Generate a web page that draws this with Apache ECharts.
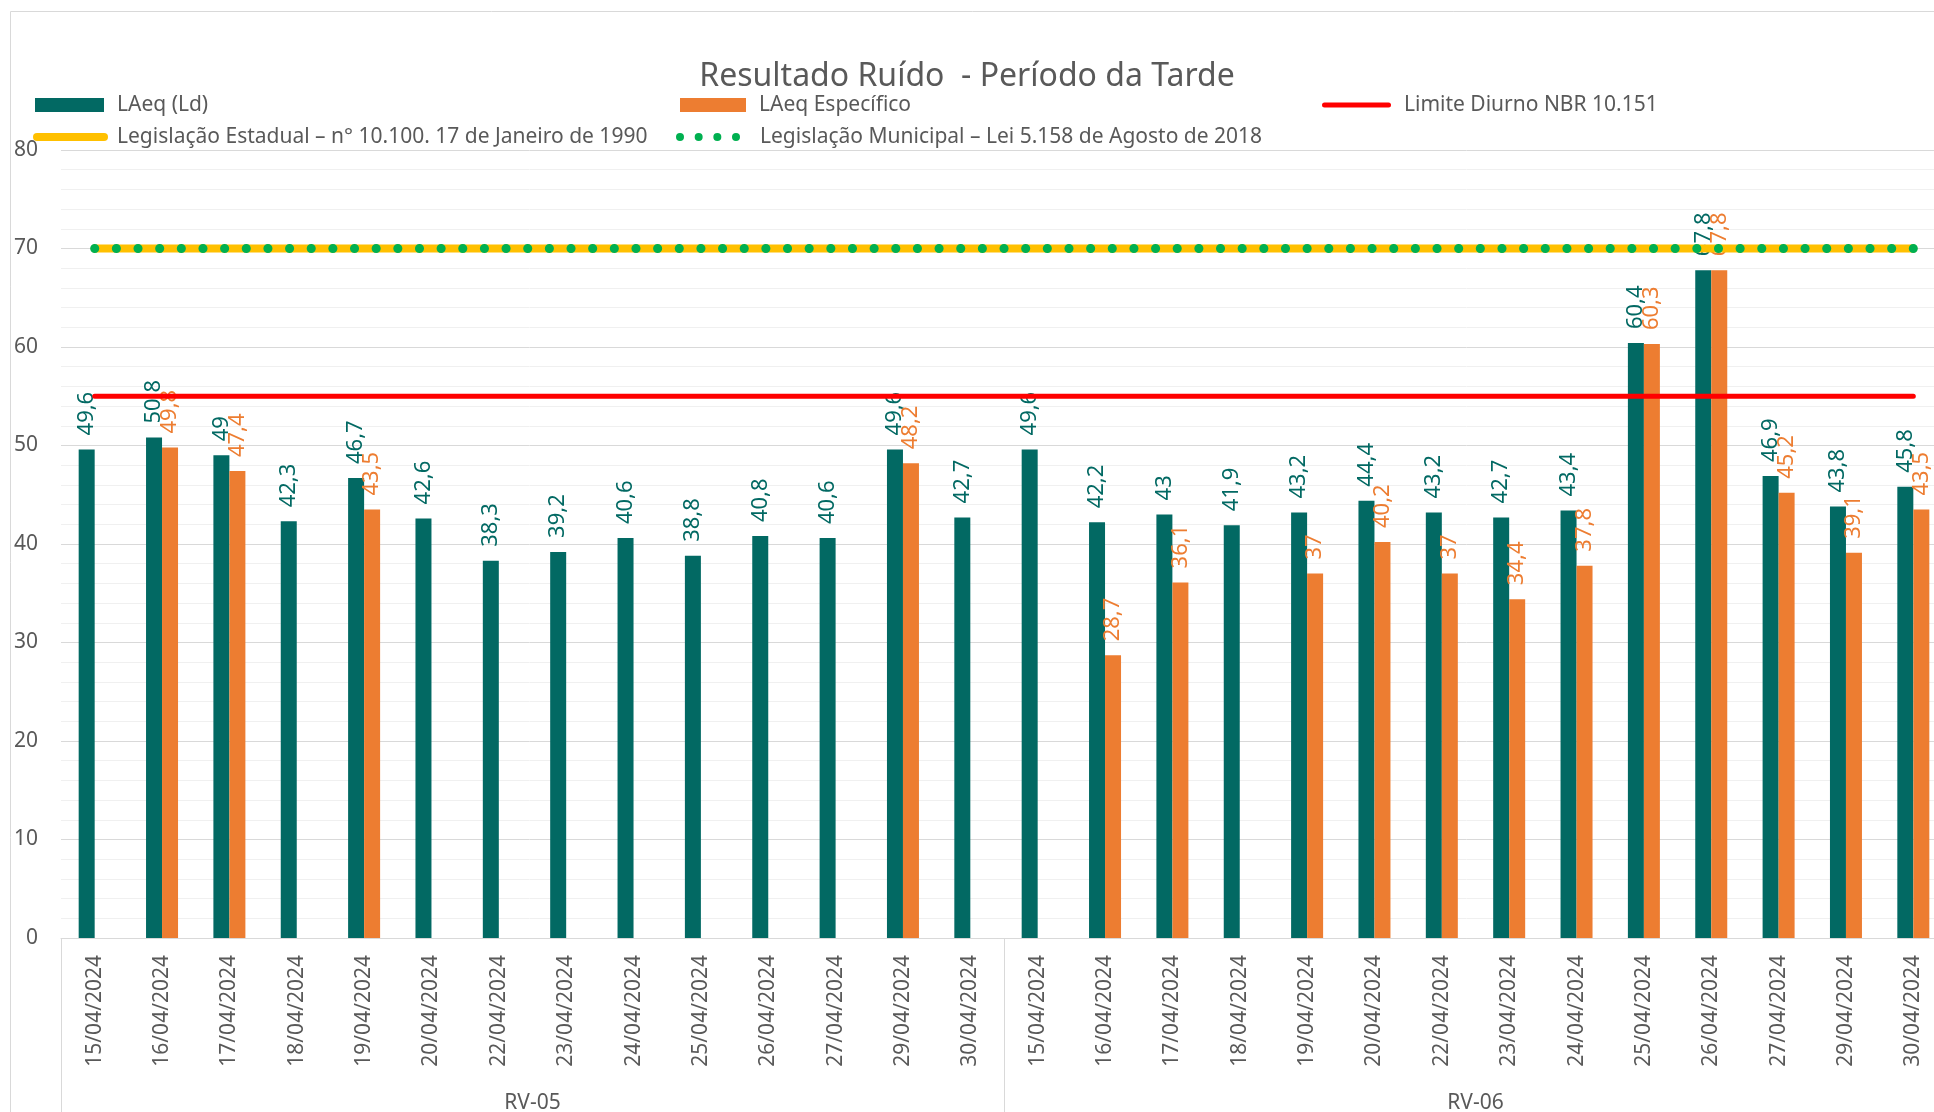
<!DOCTYPE html>
<html>
<head>
<meta charset="utf-8">
<script src="https://cdn.jsdelivr.net/npm/echarts@6/dist/echarts.min.js"></script>
</head>
<body style="margin:0;background:#fff;">
<div id="main" style="width:1934px;height:1112px;"></div>
<script type="text/javascript">

var pontos = ['RV-05', 'RV-06'];
var datasRV05 = ['15/04/2024', '16/04/2024', '17/04/2024', '18/04/2024', '19/04/2024', '20/04/2024', '22/04/2024',
                 '23/04/2024', '24/04/2024', '25/04/2024', '26/04/2024', '27/04/2024', '29/04/2024', '30/04/2024'];
var datasRV06 = ['15/04/2024', '16/04/2024', '17/04/2024', '18/04/2024', '19/04/2024', '20/04/2024', '22/04/2024',
                 '23/04/2024', '24/04/2024', '25/04/2024', '26/04/2024', '27/04/2024', '29/04/2024', '30/04/2024'];

var laeqLd = [49.6, 50.8, 49, 42.3, 46.7, 42.6, 38.3, 39.2, 40.6, 38.8, 40.8, 40.6, 49.6, 42.7,
              49.6, 42.2, 43, 41.9, 43.2, 44.4, 43.2, 42.7, 43.4, 60.4, 67.8, 46.9, 43.8, 45.8];
var laeqEspecifico = [null, 49.8, 47.4, null, 43.5, null, null, null, null, null, null, null, 48.2, null,
                      null, 28.7, 36.1, null, 37, 40.2, 37, 34.4, 37.8, 60.3, 67.8, 45.2, 39.1, 43.5];
var limiteDiurno = [55, 55, 55, 55, 55, 55, 55, 55, 55, 55, 55, 55, 55, 55,
                    55, 55, 55, 55, 55, 55, 55, 55, 55, 55, 55, 55, 55, 55];
var legEstadual = [70, 70, 70, 70, 70, 70, 70, 70, 70, 70, 70, 70, 70, 70,
                   70, 70, 70, 70, 70, 70, 70, 70, 70, 70, 70, 70, 70, 70];
var legMunicipal = [70, 70, 70, 70, 70, 70, 70, 70, 70, 70, 70, 70, 70, 70,
                    70, 70, 70, 70, 70, 70, 70, 70, 70, 70, 70, 70, 70, 70];

var font = 'Noto Sans';
var cinza = '#595959';
var teal = '#026963';
var laranja = '#ED7D31';

var nomes = {
    ld: 'LAeq (Ld)',
    esp: 'LAeq Específico',
    nbr: 'Limite Diurno NBR 10.151',
    est: 'Legislação Estadual – n° 10.100. 17 de Janeiro de 1990',
    mun: 'Legislação Municipal – Lei 5.158 de Agosto de 2018'
};

function virgula(p) {
    return String(p.value).replace('.', ',');
}

function legenda(nome, icon, left, top, w, h, pad) {
    return {
        left: left, top: top, padding: 0,
        itemWidth: w, itemHeight: h,
        selectedMode: false,
        itemStyle: {borderWidth: 0},
        textStyle: {color: cinza, fontSize: 21, fontFamily: font, lineHeight: 22, padding: [0, 0, 0, pad]},
        data: [{name: nome, icon: icon}]
    };
}

var iconVermelho = 'path://M2.5,0H66.5A2.5,2.5 0 0 1 66.5,5H2.5A2.5,2.5 0 0 1 2.5,0Z';
var iconAmarelo = 'path://M4,0H71A4,4 0 0 1 71,8H4A4,4 0 0 1 4,0Z';
var iconPontos = 'path://M0,4A4,4 0 1 0 8,4A4,4 0 1 0 0,4Z' +
                 'M18.67,4A4,4 0 1 0 26.67,4A4,4 0 1 0 18.67,4Z' +
                 'M37.33,4A4,4 0 1 0 45.33,4A4,4 0 1 0 37.33,4Z' +
                 'M56,4A4,4 0 1 0 64,4A4,4 0 1 0 56,4Z';

var myChart = echarts.init(document.getElementById('main'));

myChart.setOption({
    animation: false,
    title: {
        text: 'Resultado Ruído  - Período da Tarde',
        left: 'center',
        top: 56,
        textStyle: {color: cinza, fontSize: 32, fontWeight: 'normal', fontFamily: font}
    },
    graphic: [{
        type: 'rect',
        shape: {x: 10.5, y: 11.5, width: 2000, height: 2000},
        style: {fill: 'none', stroke: '#D9D9D9', lineWidth: 1},
        silent: true
    }],
    legend: [
        legenda(nomes.ld, 'rect', 35, 94, 69, 14, 8),
        legenda(nomes.esp, 'rect', 680, 94, 66, 14, 8),
        legenda(nomes.nbr, iconVermelho, 1322, 94, 69, 5, 8),
        legenda(nomes.est, iconAmarelo, 33, 126, 75, 8, 4),
        legenda(nomes.mun, iconPontos, 676, 126, 64, 8, 15)
    ],
    grid: {left: 61, top: 150, width: 1886, height: 788, outerBoundsMode: 'none', containLabel: false},
    xAxis: [{
        type: 'category',
        data: datasRV05.concat(datasRV06),
        axisLine: {lineStyle: {color: '#D9D9D9', width: 1}},
        axisTick: {show: false},
        axisLabel: {interval: 0, rotate: 90, margin: 17, color: cinza, fontSize: 21, fontFamily: font}
    }, {
        type: 'category',
        data: pontos,
        position: 'bottom',
        axisLine: {show: false},
        axisTick: {show: true, length: 180, lineStyle: {color: '#D9D9D9', width: 1}},
        axisLabel: {margin: 155, color: cinza, fontSize: 21, fontFamily: font},
        splitLine: {show: false}
    }],
    yAxis: {
        type: 'value',
        min: 0,
        max: 80,
        interval: 10,
        axisLine: {show: false},
        axisTick: {show: false},
        axisLabel: {margin: 23, color: cinza, fontSize: 21, fontFamily: font},
        splitLine: {lineStyle: {color: '#D9D9D9', width: 1}},
        minorTick: {show: false, splitNumber: 5},
        minorSplitLine: {show: true, lineStyle: {color: '#F0F0F0', width: 1}}
    },
    series: [{
        name: nomes.ld,
        type: 'bar',
        data: laeqLd,
        barWidth: 16,
        barGap: '0%',
        z: 2,
        itemStyle: {color: teal},
        label: {
            show: true, position: 'top', rotate: 90, align: 'left', verticalAlign: 'middle',
            distance: 14, color: teal, fontSize: 22, fontFamily: font, formatter: virgula
        }
    }, {
        name: nomes.esp,
        type: 'bar',
        data: laeqEspecifico,
        barWidth: 16,
        barGap: '0%',
        z: 2,
        itemStyle: {color: laranja},
        label: {
            show: true, position: 'top', rotate: 90, align: 'left', verticalAlign: 'middle',
            distance: 14, color: laranja, fontSize: 22, fontFamily: font, formatter: virgula
        }
    }, {
        name: nomes.nbr,
        type: 'line',
        data: limiteDiurno,
        symbol: 'none',
        silent: true,
        z: 3,
        itemStyle: {color: '#FF0000'},
        lineStyle: {color: '#FF0000', width: 5, cap: 'round'}
    }, {
        name: nomes.est,
        type: 'line',
        data: legEstadual,
        symbol: 'none',
        silent: true,
        z: 3,
        itemStyle: {color: '#FFC000'},
        lineStyle: {color: '#FFC000', width: 8, cap: 'round'}
    }, {
        name: nomes.mun,
        type: 'line',
        data: legMunicipal,
        symbol: 'none',
        silent: true,
        z: 4,
        itemStyle: {color: '#00B050'},
        lineStyle: {color: '#00B050', width: 9, cap: 'round', type: [0.1, 21.55]}
    }]
});

</script>
</body>
</html>
